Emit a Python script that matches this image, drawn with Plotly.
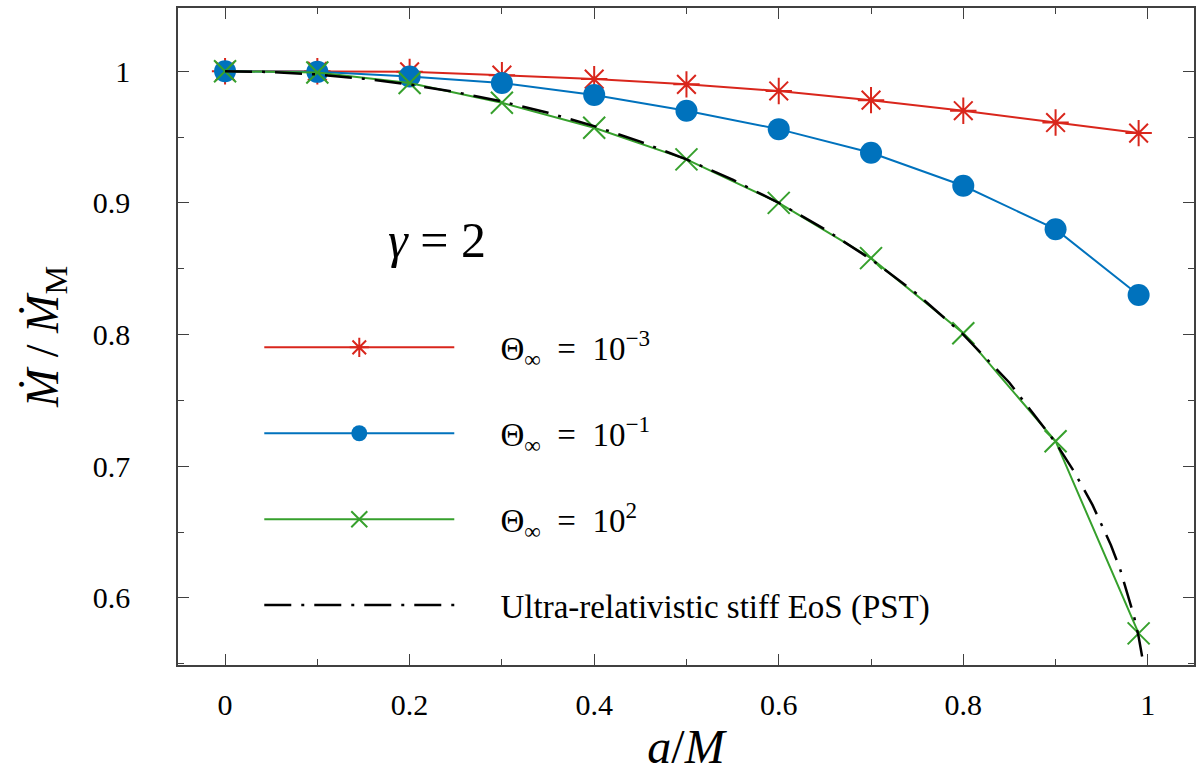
import plotly.graph_objects as go

# spin parameter a/M
a_vals = [0.0, 0.1, 0.2, 0.3, 0.4, 0.5, 0.6, 0.7, 0.8, 0.9, 0.99]

# normalised accretion rate for each asymptotic temperature
mdot_theta_1em3 = [1.000, 1.000, 0.9995, 0.997, 0.994, 0.990, 0.985, 0.978, 0.970, 0.961, 0.953]
mdot_theta_1em1 = [1.000, 0.9995, 0.996, 0.991, 0.982, 0.970, 0.956, 0.938, 0.913, 0.880, 0.830]
mdot_theta_1e2 = [1.000, 0.999, 0.991, 0.976, 0.957, 0.933, 0.900, 0.858, 0.801, 0.719, 0.573]

# ultra-relativistic stiff EoS (PST) curve
pst_a = [0.0, 0.05, 0.1, 0.15, 0.2, 0.25, 0.3, 0.35, 0.4, 0.45, 0.5, 0.55, 0.6, 0.65,
         0.7, 0.75, 0.8, 0.85, 0.9, 0.92, 0.94, 0.96, 0.97, 0.98, 0.985, 0.99, 0.994]
pst_mdot = [1.0, 0.9994, 0.9975, 0.9943, 0.9899, 0.9841, 0.9770, 0.9684, 0.9583, 0.9465,
            0.9330, 0.9176, 0.9000, 0.8799, 0.8571, 0.8307, 0.8000, 0.7634, 0.7179, 0.6960,
            0.6706, 0.6400, 0.6216, 0.5990, 0.5860, 0.5705, 0.5546]

PAD = "\u00a0" * 5
EQ = "\u00a0\u00a0=\u00a0\u00a0"
series_names = [PAD + "Θ<sub>∞</sub>" + EQ + "10<sup>−3</sup>",
                PAD + "Θ<sub>∞</sub>" + EQ + "10<sup>−1</sup>",
                PAD + "Θ<sub>∞</sub>" + EQ + "10<sup>2</sup>",
                PAD + "Ultra-relativistic stiff EoS (PST)"]

x_ticks = [0, 0.2, 0.4, 0.6, 0.8, 1.0]
x_tick_labels = ["0", "0.2", "0.4", "0.6", "0.8", "1"]
y_ticks = [0.6, 0.7, 0.8, 0.9, 1.0]
y_tick_labels = ["0.6", "0.7", "0.8", "0.9", "1"]

RED = "#d9261c"
BLUE = "#0072bd"
GREEN = "#36a02c"
FONT = "Liberation Serif, DejaVu Serif, serif"

fig = go.Figure()
fig.add_trace(go.Scatter(
    x=a_vals, y=mdot_theta_1em3, mode="lines+markers", name=series_names[0],
    line=dict(color=RED, width=2),
    marker=dict(symbol="asterisk-open", size=22, color=RED, line=dict(color=RED, width=2)),
    legendgroup="g1"))
fig.add_trace(go.Scatter(
    x=a_vals, y=mdot_theta_1em1, mode="lines+markers", name=series_names[1],
    line=dict(color=BLUE, width=2),
    marker=dict(symbol="circle", size=22, color=BLUE, line=dict(width=0)),
    legendgroup="g2"))
fig.add_trace(go.Scatter(
    x=a_vals, y=mdot_theta_1e2, mode="lines+markers", name=series_names[2],
    line=dict(color=GREEN, width=2),
    marker=dict(symbol="x-thin-open", size=22, color=GREEN, line=dict(color=GREEN, width=2)),
    legendgroup="g3"))
fig.add_trace(go.Scatter(
    x=pst_a, y=pst_mdot, mode="lines", name=series_names[3],
    line=dict(color="black", width=2.5, dash="27px,10px,3px,10px"),
    legendgroup="g4"))

axis_common = dict(
    showline=True, linecolor="#404040", linewidth=1.5, mirror="allticks",
    ticks="inside", ticklen=11, tickwidth=1.3, tickcolor="#404040",
    showgrid=False, zeroline=False,
    tickfont=dict(family=FONT, size=30, color="black"),
)

fig.update_xaxes(
    range=[-0.051, 1.05], tickvals=x_ticks, ticktext=x_tick_labels,
    minor=dict(dtick=0.1, tick0=0, ticks="inside", ticklen=6, tickcolor="#404040", tickwidth=1.3),
    title=dict(text="<i>a</i>/<i>M</i>", font=dict(family=FONT, size=48, color="black"), standoff=10),
    ticklabelstandoff=12,
    **axis_common)
fig.update_yaxes(
    range=[0.549, 1.048], tickvals=y_ticks, ticktext=y_tick_labels,
    minor=dict(dtick=0.05, tick0=0, ticks="inside", ticklen=6, tickcolor="#404040", tickwidth=1.3),
    title=dict(text="<i>Ṁ</i> / <i>Ṁ</i><sub>M</sub>", font=dict(family=FONT, size=46, color="black"), standoff=20),
    ticklabelstandoff=40,
    **axis_common)

fig.add_annotation(
    x=0.23, y=0.872, xref="x", yref="y", text="<i>γ</i>\u00a0=\u00a02", showarrow=False,
    font=dict(family=FONT, size=50, color="black"))

fig.update_layout(
    width=1201, height=776,
    margin=dict(l=178, r=5, t=8, b=111),
    paper_bgcolor="white", plot_bgcolor="white",
    showlegend=True,
    legend=dict(
        x=0.08, y=0.526, xanchor="left", yanchor="top",
        bgcolor="rgba(0,0,0,0)", borderwidth=0,
        font=dict(family=FONT, size=33, color="black"),
        itemwidth=190, traceorder="grouped", tracegroupgap=40,
    ),
)

fig.write_html("out.html")
